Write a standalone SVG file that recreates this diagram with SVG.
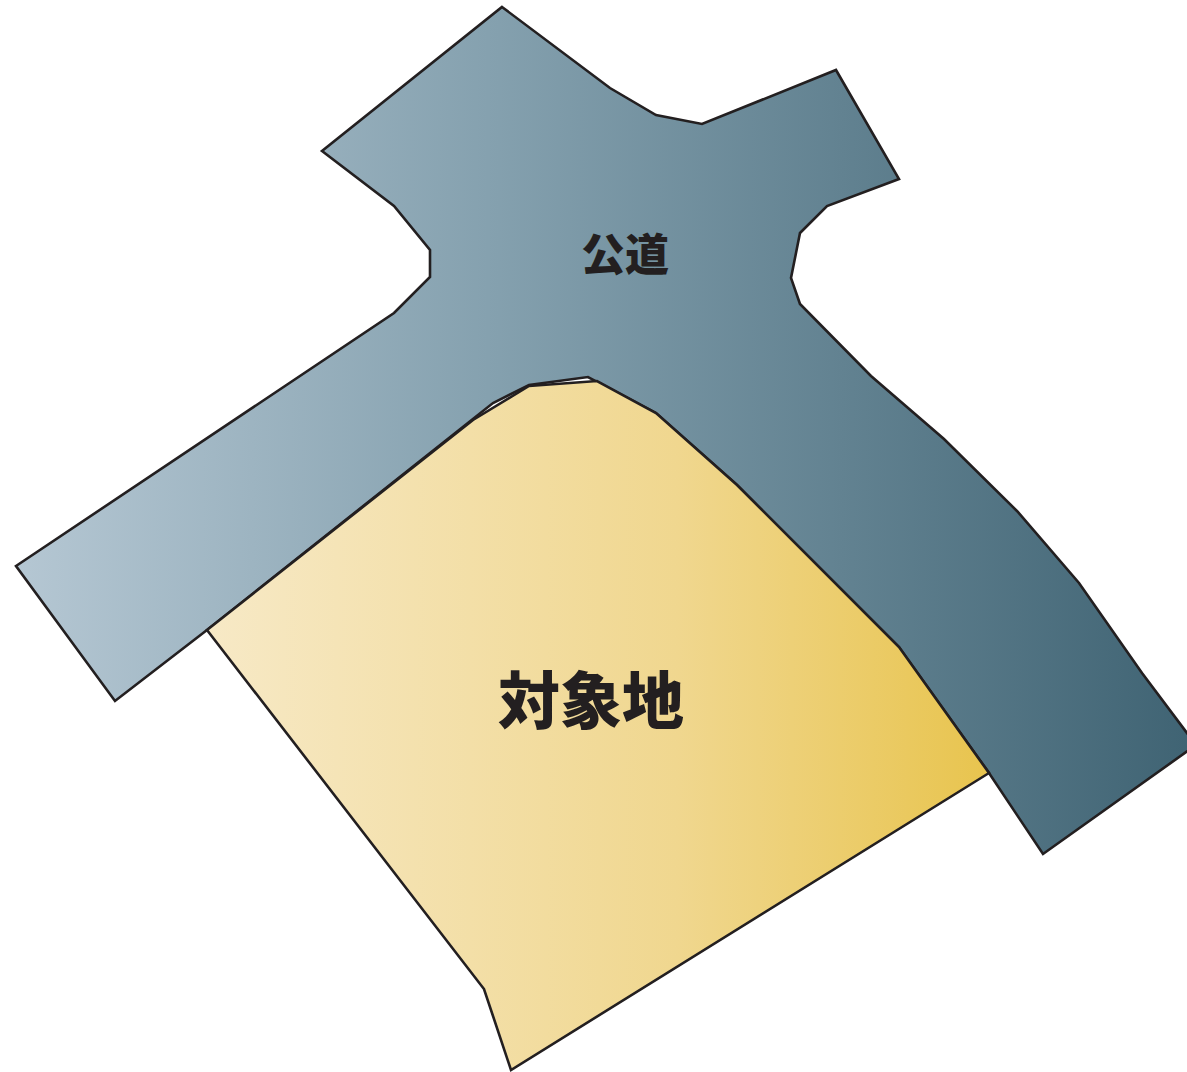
<svg xmlns="http://www.w3.org/2000/svg" width="1187" height="1072" viewBox="0 0 1187 1072">
<style>
.shape{stroke:#231f20;stroke-width:2.6;stroke-linejoin:miter}
text{font-family:"Noto Sans CJK JP","Noto Sans CJK SC",sans-serif;font-weight:900;fill:#231f20;text-anchor:middle}
</style>
<defs>
<linearGradient id="roadFill" gradientUnits="userSpaceOnUse" x1="16" y1="0" x2="1196" y2="0">
<stop offset="0" stop-color="#b5c7d3"/><stop offset="0.4" stop-color="#85a1af"/><stop offset="1" stop-color="#3f6373"/>
</linearGradient>
<linearGradient id="siteFill" gradientUnits="userSpaceOnUse" x1="207" y1="0" x2="989" y2="0">
<stop offset="0" stop-color="#f7e9c6"/><stop offset="0.6" stop-color="#f0d78f"/><stop offset="1" stop-color="#e8c44e"/>
</linearGradient>
</defs>
<rect width="1187" height="1072" fill="#fff"/>
<g id="road">
<polygon class="shape" fill="url(#roadFill)" points="502,7 610,88 656,115 702,124 836,70 899,179 827,206 800,233 791,278 800,304 871,376 944,439 1017,511 1079,583 1142,673 1196,745 1043,854 989,773 899,647 737,485 656,413 588,377 529,385 493,403 207,630 115,701 16,566 394,313 430,277 430,250 394,206 322,151"/>
<text x="625" y="271" font-size="44">公道</text>
</g>
<g id="site">
<polygon class="shape" fill="url(#siteFill)" points="207,630 473,420 529,386 597,381 656,413 737,485 899,647 989,773 511,1070 484,989"/>
<text x="591" y="724" font-size="62">対象地</text>
</g>
<g id="connectors"/>
</svg>
